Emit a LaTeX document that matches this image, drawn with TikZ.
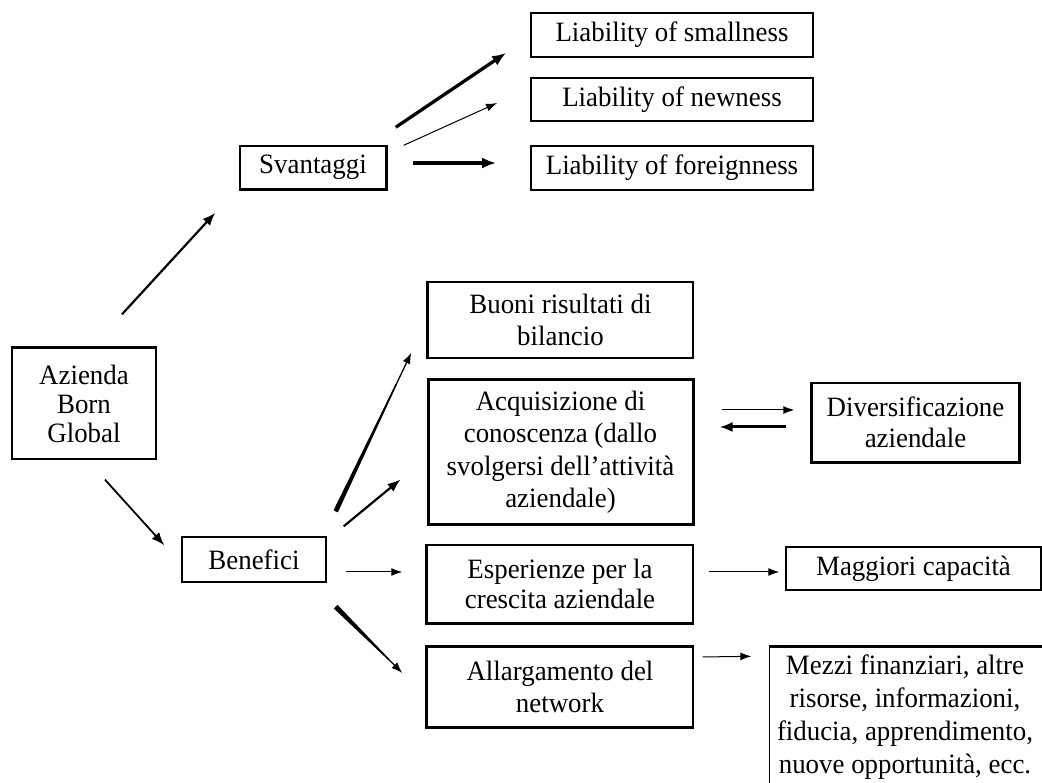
\documentclass[tikz,border=0pt]{standalone}
\usepackage{fontspec}
\setmainfont[FakeStretch=0.96]{Liberation Serif}
\usetikzlibrary{arrows.meta,calc}

% filled wedge that narrows from #3 (half width) at #1 to #4 at 80% of the way,
% finished by a thin arrow to #2
\newcommand\taperarrow[5]{%
  \coordinate (tp) at ($(#1)!0.8!(#2)$);
  \fill ($(#1)!#3!90:(#2)$) -- ($(tp)!#4!-90:(#1)$) -- ($(tp)!#4!90:(#1)$) -- ($(#1)!#3!-90:(#2)$) -- cycle;
  \draw[#5] (#1) -- (#2);
}

\begin{document}
\begin{tikzpicture}[x=1pt,y=1pt,
  box/.style={draw, line width=1.4pt, align=center, inner sep=0pt,
    font=\fontsize{28}{31.5}\selectfont},
  heavyside/.style={line width=3.2pt},
  thinarrow/.style={line width=1pt, -{Latex[length=11pt,width=8pt]}},
  midarrow/.style={line width=2.2pt, -{Latex[length=13pt,width=10pt]}},
  heavyarrow/.style={line width=3.3pt, -{Latex[length=14pt,width=11pt]}}
]
\useasboundingbox (0,0) rectangle (1042,783);
\clip (0,0) rectangle (1042,783);

% ---- boxes ----
\node[box, minimum width=144pt, minimum height=111pt,
  font=\fontsize{28}{29}\selectfont] (az) at (84,379.5) {Azienda\\Born\\Global};
\node[box, minimum width=146pt, minimum height=43pt] (sv) at (313,615.5) {Svantaggi};
\node[box, minimum width=144pt, minimum height=45pt] (ben) at (254,223.5) {Benefici};

\node[box, line width=1.8pt, minimum width=282pt, minimum height=44pt] (small) at (672,748) {Liability of smallness};
\node[box, line width=1.8pt, minimum width=282pt, minimum height=43pt] (new) at (672,683.5) {Liability of newness};
\node[box, line width=1.8pt, minimum width=282pt, minimum height=44pt] (foreign) at (672,615) {Liability of foreignness};

\node[box, minimum width=265pt, minimum height=76pt] (buoni) at (560.5,463) {Buoni risultati di\\bilancio};
\node[box, line width=3pt, minimum width=265pt, minimum height=145pt,
  font=\fontsize{28}{32.5}\selectfont] (acq) at (560.5,330.5)
  {Acquisizione di\\conoscenza (dallo\\svolgersi dell’attività\\aziendale)};
\node[box, minimum width=266pt, minimum height=78pt,
  font=\fontsize{28}{30}\selectfont] (esp) at (560,199) {Esperienze per la\\crescita aziendale};
\node[box, minimum width=266pt, minimum height=80pt] (all) at (560,96) {Allargamento del\\network};

\node[box, minimum width=207pt, minimum height=79pt] (div) at (915.5,360.5) {Diversificazione\\aziendale};
\node[box, minimum width=255pt, minimum height=43pt] (mag) at (913.5,214.5) {Maggiori capacità};
\node[box, draw=none, minimum width=270pt, minimum height=140pt,
  font=\fontsize{28}{33}\selectfont] (mez) at (905,66)
  {Mezzi finanziari, altre\\risorse, informazioni,\\fiducia, apprendimento,\\nuove opportunità, ecc.};

% ---- heavier box sides ----
\draw[heavyside] (sv.south west) -- (sv.south east) -- (sv.north east);
\draw[heavyside] (az.north west) -- (az.north east);
\draw[heavyside] (buoni.south west) -- (buoni.north west);
\draw[heavyside] (esp.south east) -- (esp.south west) -- (esp.north west);
\draw[heavyside] (all.north east) -- (all.north west) -- (all.south west) -- (all.south east);
\draw[heavyside] (div.north west) -- (div.south west) -- (div.south east) -- (div.north east);
\draw[heavyside] (mag.south east) -- (mag.north east);
\draw[heavyside] ([xshift=20pt]mez.north east) -- (mez.north west);
\draw[line width=1.4pt] (mez.north west) -- ([yshift=-20pt]mez.south west);

% ---- connectors ----
\draw[midarrow] ([shift={(38,33)}]az.north) -- ([shift={(-24,-23)}]sv.south west);
\draw[midarrow, line width=1.8pt] ([shift={(21,-20)}]az.south) -- ([shift={(-17,-9)}]ben.north west);

\draw[heavyarrow] ([shift={(9,18)}]sv.north east) -- ([shift={(-24,5)}]small.south west);
\draw[thinarrow] ([shift={(17,0)}]sv.north east) -- ([shift={(-33,-3.5)}]new.west);
\draw[heavyarrow] ([shift={(26,4.5)}]sv.east) -- ([shift={(-34,5)}]foreign.west);

\coordinate (b1s) at ([shift={(9,25)}]ben.north east);
\coordinate (b1e) at ([shift={(-16,6)}]buoni.south west);
\taperarrow{b1s}{b1e}{2.4pt}{0.7pt}{thinarrow, line width=1.3pt}
\draw[midarrow] ([shift={(17,10)}]ben.north east) -- ([shift={(-26,47)}]acq.south west);
\draw[thinarrow] ([shift={(19,-12.5)}]ben.east) -- ([shift={(-24,12)}]esp.west);
\coordinate (b4s) at ([shift={(9,-24)}]ben.south east);
\coordinate (b4e) at ([shift={(-24,14)}]all.west);
\taperarrow{b4s}{b4e}{2.6pt}{0.7pt}{thinarrow, line width=1.3pt}

\draw[thinarrow] ([shift={(27,42.5)}]acq.east) -- ([shift={(-17,12.5)}]div.west);
\draw[midarrow, line width=3pt] ([shift={(-25,-4.5)}]div.west) -- ([shift={(25,25.5)}]acq.east);
\draw[thinarrow] ([shift={(15,12)}]esp.east) -- ([shift={(-6,-3.5)}]mag.west);
\draw[thinarrow] ([shift={(9,30)}]all.east) -- ([shift={(-18,-10)}]mez.north west);
\end{tikzpicture}
\end{document}
